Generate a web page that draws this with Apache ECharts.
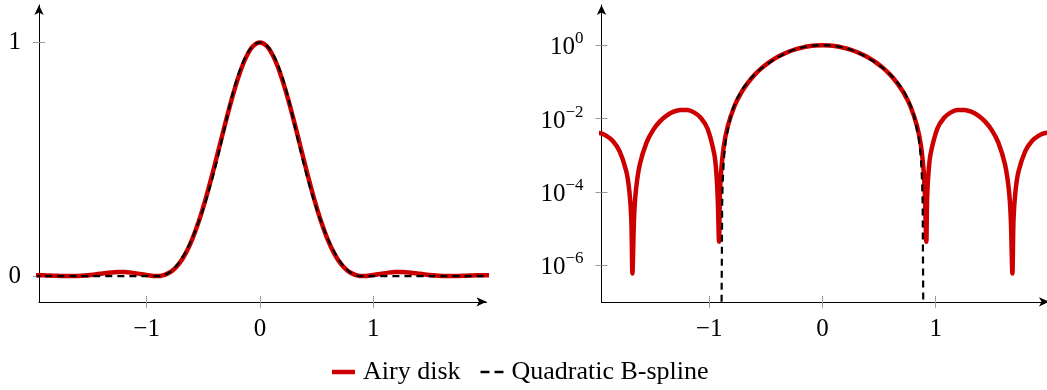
<!DOCTYPE html>
<html><head><meta charset="utf-8">
<script src="https://cdn.jsdelivr.net/npm/echarts@6/dist/echarts.min.js"></script>
<style>html,body{margin:0;padding:0;background:#fff}#c{width:1047px;height:390px}</style>
</head><body><div id="c"></div>
<script>
// ---- data ----
const seriesNames = ['Airy disk', 'Quadratic B-spline'];
const airyX = [-2.0292,-1.9695,-1.9099,-1.8502,-1.7905,-1.7308,-1.7035,-1.6868,-1.6770,-1.6629,-1.6462,-1.6114,-1.5518,-1.4921,-1.4324,-1.3727,-1.3130,-1.2533,-1.1937,-1.1340,-1.0743,-1.0146,-0.9549,-0.9362,-0.9243,-0.9124,-0.9052,-0.8953,-0.8714,-0.8356,-0.7759,-0.7162,-0.6565,-0.5968,-0.5371,-0.4775,-0.4178,-0.3581,-0.2984,-0.2387,-0.1790,-0.1194,-0.0597,0,
0.0597,0.1194,0.1790,0.2387,0.2984,0.3581,0.4178,0.4775,0.5371,0.5968,0.6565,0.7162,0.7759,0.8356,0.8714,0.8953,0.9052,0.9172,0.9243,0.9362,0.9549,1.0146,1.0743,1.1340,1.1937,1.2533,1.3130,1.3727,1.4324,1.4921,1.5518,1.6114,1.6462,1.6629,1.6770,1.6868,1.7035,1.7308,1.7905,1.8502,1.9099,1.9695,2.0292];
const airyY = [0.0041298,0.0040391,0.0034410,0.0024440,0.0013008,0.00035773,0.00010007,0.000017911,0.0000005952,0.000018694,0.00011090,0.0005664,0.0022406,0.0049876,0.0085058,0.012227,0.015416,0.017270,0.017169,0.014821,0.010546,0.0053559,0.0010903,0.00033321,0.000068515,0.0000043656,0.000072945,0.00031446,0.0016708,0.0061627,0.022016,0.051094,0.09597,0.15814,0.23759,0.33261,0.43962,0.55341,0.66748,0.77458,0.86735,0.93910,0.98448,1,
0.98448,0.93910,0.86735,0.77458,0.66748,0.55341,0.43962,0.33261,0.23759,0.15814,0.09597,0.051094,0.022016,0.0061627,0.0016708,0.00031446,0.000072945,0.0000043656,0.000068515,0.00033321,0.0010903,0.0053559,0.010546,0.014821,0.017169,0.017270,0.015416,0.012227,0.0085058,0.0049876,0.0022406,0.0005664,0.00011090,0.000018694,0.0000005952,0.000017911,0.00010007,0.00035773,0.0013008,0.0024440,0.0034410,0.0040391,0.0041298];
const bsplineX = [-2.0,-1.5,-1.0,-0.89,-0.885,-0.88,-0.87,-0.86,-0.85,-0.8,-0.75,-0.7,-0.65,-0.6,-0.55,-0.5,-0.45,-0.4,-0.35,-0.3,-0.25,-0.2,-0.15,-0.1,-0.05,0,
0.05,0.1,0.15,0.2,0.25,0.3,0.35,0.4,0.45,0.5,0.55,0.6,0.65,0.7,0.75,0.8,0.85,0.86,0.87,0.88,0.885,0.89,1.0,1.5,2.0];
const bsplineY = [0,0,0,0,0.000047343,0.00018937,0.00075748,0.0017043,0.003030,0.015339,0.037117,0.068363,0.109077,0.159260,0.218912,0.288031,0.366621,0.454678,0.552203,0.659197,0.763288,0.848504,0.914783,0.962126,0.990531,1,
0.990531,0.962126,0.914783,0.848504,0.763288,0.659197,0.552203,0.454678,0.366621,0.288031,0.218912,0.159260,0.109077,0.068363,0.037117,0.015339,0.003030,0.0017043,0.00075748,0.00018937,0.000047343,0,0,0,0];
const xTicks = [-1, 0, 1];
const linTicks = [0, 1];
const logTicks = [1e-6, 1e-4, 1e-2, 1];

// ---- layout / style ----
const FONT = '"Liberation Serif", "Times New Roman", serif';
const X_MIN = -1.95, X_MAX = 2.0;
const LIN_MIN = -0.11, LIN_MAX = 1.16;
const LOG_MIN = 1e-7, LOG_MAX = 12.589;
const RED = '#CC0000';

const pairs = (xs, ys) => xs.map((x, i) => [x, ys[i]]);
const airyPts = pairs(airyX, airyY);
const bsplinePts = pairs(bsplineX, bsplineY);
// on the log axis, zero values drop to the bottom of the axis (like pgfplots clipping)
const bsplineLogPts = [];
bsplineX.forEach((x, i) => {
  const v = bsplineY[i];
  if (v > 0) bsplineLogPts.push([x, v]);
  else if ((i > 0 && bsplineY[i-1] > 0) || (i < bsplineY.length - 1 && bsplineY[i+1] > 0)) bsplineLogPts.push([x, LOG_MIN]);
});

const fmtNum = v => v < 0 ? '\u2212' + (-v) : String(v);
const fmtPow = v => { const e = Math.round(Math.log10(v)); return '{b|10}{s|' + (e < 0 ? '\u2212' + (-e) : e) + '}'; };

const gridL = {left: 39, top: 5, width: 447.5, height: 296.8, outerBoundsMode: 'none', containLabel: false};
const gridR = {left: 601.5, top: 5, width: 447.5, height: 296.8, outerBoundsMode: 'none', containLabel: false};

const axisLineMain = {show: true, onZero: false, symbol: ['none', 'arrow'], symbolSize: [7, 10], symbolOffset: [0, 0], lineStyle: {color: '#000', width: 1}};
const tickStyle = {color: '#9a9a9a', width: 1};
const labelBase = {color: '#000', fontFamily: FONT, fontSize: 25};

function mainX(gi) {
  return {type: 'value', gridIndex: gi, min: X_MIN, max: X_MAX, axisLine: axisLineMain,
    axisTick: {show: true, length: 6, customValues: xTicks, lineStyle: tickStyle},
    axisLabel: Object.assign({customValues: xTicks, formatter: fmtNum, margin: 15}, labelBase),
    splitLine: {show: false}};
}
function tickX(gi) {
  return {type: 'value', gridIndex: gi, min: X_MIN, max: X_MAX, axisLine: {show: false, onZero: false},
    axisTick: {show: true, inside: true, length: 6, customValues: xTicks, lineStyle: tickStyle},
    axisLabel: {show: false}, splitLine: {show: false}};
}

const option = {
  animation: false,
  backgroundColor: '#fff',
  grid: [gridL, Object.assign({}, gridL), gridR, Object.assign({}, gridR)],
  xAxis: [mainX(0), tickX(1), mainX(2), tickX(3)],
  yAxis: [
    {type: 'value', gridIndex: 0, min: LIN_MIN, max: LIN_MAX, axisLine: axisLineMain,
     axisTick: {show: true, length: 6, customValues: linTicks, lineStyle: tickStyle},
     axisLabel: Object.assign({customValues: linTicks, formatter: fmtNum, margin: 18}, labelBase),
     splitLine: {show: false}},
    {type: 'value', gridIndex: 1, min: LIN_MIN, max: LIN_MAX, axisLine: {show: false, onZero: false},
     axisTick: {show: true, inside: true, length: 6, customValues: linTicks, lineStyle: tickStyle},
     axisLabel: {show: false}, splitLine: {show: false}},
    {type: 'log', logBase: 10, gridIndex: 2, min: LOG_MIN, max: LOG_MAX, axisLine: axisLineMain,
     axisTick: {show: true, length: 6, customValues: logTicks, lineStyle: tickStyle},
     axisLabel: {customValues: logTicks, formatter: fmtPow, margin: 18, color: '#000',
       rich: {b: {fontFamily: FONT, fontSize: 25, lineHeight: 30, verticalAlign: 'bottom', color: '#000'},
              s: {fontFamily: FONT, fontSize: 17, lineHeight: 18, verticalAlign: 'top', color: '#000'}}},
     splitLine: {show: false}, minorTick: {show: false}},
    {type: 'log', logBase: 10, gridIndex: 3, min: LOG_MIN, max: LOG_MAX, axisLine: {show: false, onZero: false},
     axisTick: {show: true, inside: true, length: 6, customValues: logTicks, lineStyle: tickStyle},
     axisLabel: {show: false}, splitLine: {show: false}}
  ],
  legend: {
    left: 332, top: 357, padding: 0, itemGap: 20, itemWidth: 23, itemHeight: 14,
    textStyle: {fontFamily: FONT, fontSize: 26, color: '#000', lineHeight: 30, padding: [0, 0, 0, 3]},
    data: [
      {name: seriesNames[0], icon: 'path://M0,0h23v4.5h-23z'},
      {name: seriesNames[1], icon: 'path://M0,0h9v2.4h-9z M14,0h9v2.4h-9z'}
    ]
  },
  series: [
    {name: seriesNames[0], type: 'line', xAxisIndex: 0, yAxisIndex: 0, data: airyPts, showSymbol: false, symbol: 'none',
     smooth: 0.3,
     itemStyle: {color: RED}, lineStyle: {color: RED, width: 4.5, join: 'round'}, clip: true, z: 2},
    {name: seriesNames[1], type: 'line', xAxisIndex: 0, yAxisIndex: 0, data: bsplinePts, showSymbol: false, symbol: 'none',
     smooth: 0.3,
     itemStyle: {color: '#000'}, lineStyle: {color: '#000', width: 2.2, type: [7, 5]}, clip: true, z: 3},
    {name: seriesNames[0], type: 'line', xAxisIndex: 2, yAxisIndex: 2, data: airyPts, showSymbol: false, symbol: 'none',
     smooth: 0.3,
     itemStyle: {color: RED}, lineStyle: {color: RED, width: 4.5, join: 'miter', miterLimit: 10}, clip: true, z: 2},
    {name: seriesNames[1], type: 'line', xAxisIndex: 2, yAxisIndex: 2, data: bsplineLogPts, showSymbol: false, symbol: 'none',
     itemStyle: {color: '#000'}, lineStyle: {color: '#000', width: 2.2, type: [7, 5]}, clip: true, z: 3}
  ]
};
const chart = echarts.init(document.getElementById('c'), null, {renderer: 'canvas'});
chart.setOption(option);
</script>
</body></html>
